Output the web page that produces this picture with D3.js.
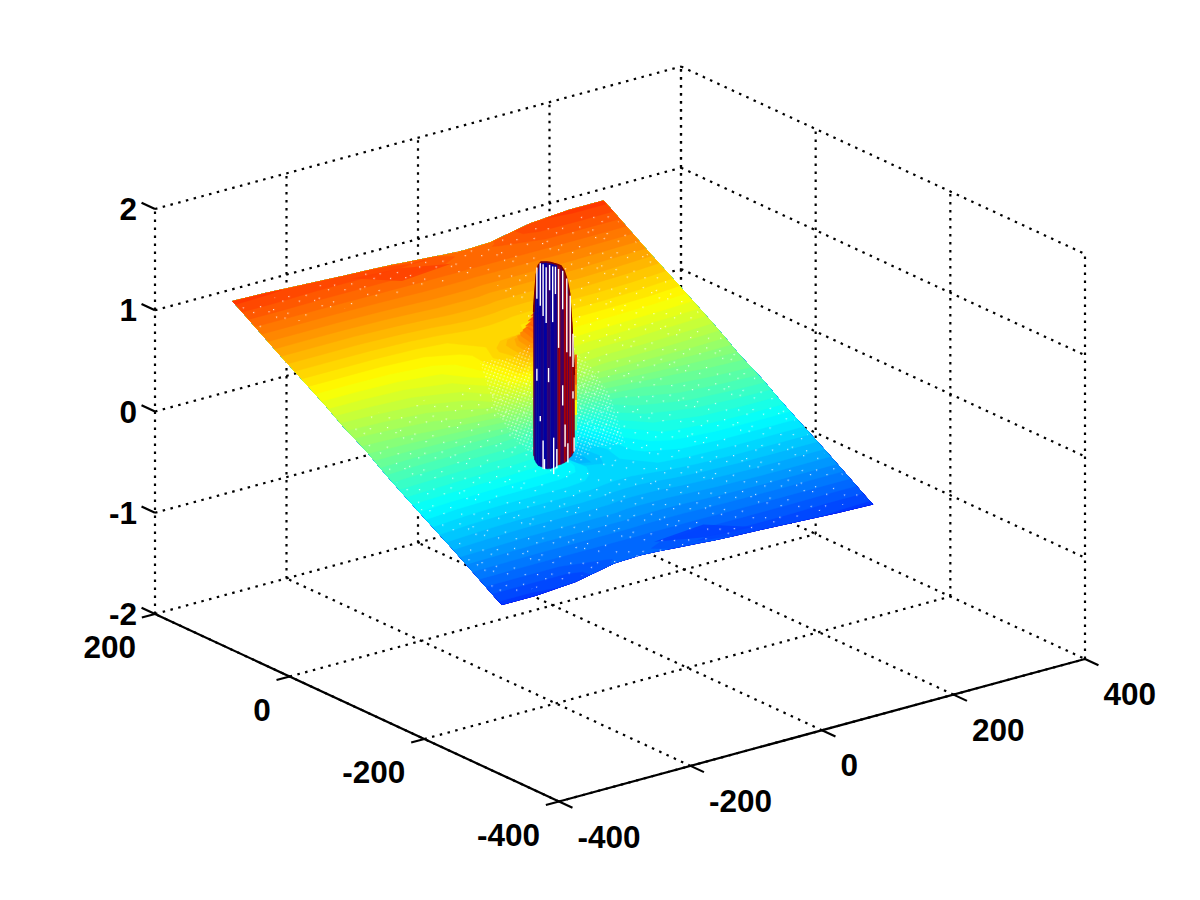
<!DOCTYPE html>
<html><head><meta charset="utf-8">
<style>html,body{margin:0;padding:0;background:#fff}svg{display:block}text{font-family:"Liberation Sans",Arial,sans-serif;font-weight:700;font-size:31.5px;fill:#000}</style>
<script src="https://cdn.jsdelivr.net/npm/d3@7"></script>
</head><body><svg id="c" width="1200" height="900"></svg>
<script>
// ---------- axis values ----------
const xTicks=[-400,-200,0,200,400];
const yTicks=[-400,-200,0,200];
const zTicks=[-2,-1,0,1,2];
// ---------- surface grid ----------
const xGrid=[-282,-230,-170,-110,-70,-40,-22,0,22,40,70,110,170,230,282];
const yGrid=[200,190,170,130,90,60,35,20,0,-20,-35,-60,-90,-130,-170,-190,-200];
const zGrid=[
[.88,.87,.85,.83,.82,.81,.80,.79,.78,.77,.76,.77,.85,.88,.88],
[.84,.84,.83,.83,.83,.83,.82,.82,.80,.78,.76,.78,.84,.84,.84],
[.75,.75,.75,.75,.75,.75,.75,.75,.75,.75,.75,.75,.75,.75,.75],
[.57,.57,.57,.58,.59,.60,.60,.60,.60,.59,.59,.59,.59,.58,.57],
[.40,.40,.40,.41,.43,.45,.46,.46,.45,.44,.43,.43,.43,.42,.40],
[.27,.27,.28,.31,.37,.43,.46,.47,.43,.35,.31,.30,.29,.28,.27],
[.15,.16,.18,.24,.36,.50,.56,.60,.45,.27,.20,.18,.18,.17,.16],
[.09,.10,.12,.19,.30,.48,.72,.95,.60,.20,.11,.10,.10,.10,.09],
[.01,.02,.05,.12,.24,.50,.85,.00,-.50,-.36,-.22,-.12,-.05,-.02,-.01],
[-.09,-.10,-.10,-.10,-.11,-.20,-.45,-.55,-.55,-.44,-.30,-.19,-.12,-.10,-.09],
[-.16,-.17,-.18,-.18,-.20,-.27,-.38,-.50,-.52,-.46,-.34,-.24,-.18,-.16,-.15],
[-.27,-.28,-.29,-.30,-.31,-.35,-.41,-.45,-.46,-.43,-.37,-.31,-.28,-.27,-.27],
[-.40,-.42,-.43,-.43,-.43,-.44,-.45,-.46,-.46,-.45,-.43,-.41,-.40,-.40,-.40],
[-.57,-.58,-.59,-.59,-.59,-.59,-.60,-.60,-.60,-.60,-.59,-.58,-.57,-.57,-.57],
[-.75,-.75,-.75,-.75,-.75,-.75,-.75,-.75,-.75,-.75,-.75,-.75,-.75,-.75,-.75],
[-.84,-.84,-.84,-.78,-.76,-.78,-.80,-.82,-.82,-.83,-.83,-.83,-.83,-.84,-.84],
[-.88,-.88,-.85,-.77,-.76,-.77,-.78,-.79,-.80,-.81,-.82,-.83,-.85,-.87,-.88]];
const colourLimit=1.38;
const planeSlope=.0044;
// ---------- darker folds just inside the two long edges ----------
const foldX=[-111,-40,27,-52];
const foldY=[190,187,177,173];
const foldValue=.86;
// ---------- column wall ----------
const wallCentre=[1,-1];
const wallRadius=21.6;
const wallPhi=[180,170,160,150,140,130,120,110,100,90,80,70,60,50,40,30,20,10,0];
const wallTop=[.877,.959,1.10,1.29,1.393,1.434,1.445,1.454,1.456,1.45,1.443,1.429,1.377,1.284,1.149,.854,.567,.408,.296];
const wallBottom=[-.536,-.532,-.559,-.575,-.588,-.585,-.589,-.589,-.58,-.564,-.54,-.53,-.518,-.503,-.476,-.47,-.449,-.441,-.445];
const wallMix=[.75,.4,.1,0,0,.14,0,.28,.05,.12,.7,.42,.8,.42,.8,.45,.85,.9];
const wallRedPhi=[75,58,48,38,26];
const gapPhi=[147.5,132.5,122.5,112.7,102.6,93.8,86,77,64.8,51,37,21,147.5,105.6,64.8,132.5,21,122.5,118,91,57,47,8,82];
const gapTop=[1.36,1.42,1.42,1.40,1.43,1.42,1.42,1.40,1.38,1.30,1.12,.73,.36,.41,.25,-.09,.16,-.32,-.50,-.27,-.14,-.33,-.31,-.38];
const gapBottom=[1.05,1.00,.91,.85,1.18,.87,1.15,.62,1.0,.57,.52,.40,.24,.27,.05,-.14,.09,-.60,-.60,-.63,-.36,-.52,-.45,-.57];
const skirtZ=[.5,.35,.2,.05,-.1,-.25,-.4];
const skirtValue=[.8,.75,.6,.35,-.05,-.3,-.7];
// ---------- mesh speckle patches on the surface (data units) ----------
const patchX=[-44.5,-1,35,-81,-86.6,-78.5];
const patchY=[64.4,59.4,68,-49.9,-28.7,8.9];
const sparseX=[[-278,278,278,-278],[60,278,278,60],[-278,278,278,-278]];
const sparseY=[[40,40,-192,-192],[160,160,40,40],[192,192,160,160]];

// ---------- scales ----------
const originX=559, originY=801.5;
const xToSx=d3.scaleLinear([-400,400],[0,526]);
const xToSy=d3.scaleLinear([-400,400],[0,-142.5]);
const yToSx=d3.scaleLinear([-400,200],[0,-404]);
const yToSy=d3.scaleLinear([-400,200],[0,-187.5]);
const zToSy=d3.scaleLinear([-2,2],[0,-405]);
const P=(x,y,z)=>[originX+xToSx(x)+yToSx(y),originY+xToSy(x)+yToSy(y)+zToSy(z)];

function jet(v){
  const t=Math.max(0,Math.min(1,(v+colourLimit)/(2*colourLimit)));
  const f=s=>Math.round(255*Math.max(0,Math.min(1,1.5-Math.abs(4*t-s))));
  return `rgb(${f(3)},${f(2)},${f(1)})`;
}
const svg=d3.select("#c");
const defs=svg.append("defs");
function dots(id,w,h,pts,rot,r,op){
  const p=defs.append("pattern").attr("id",id).attr("patternUnits","userSpaceOnUse")
    .attr("width",w).attr("height",h).attr("patternTransform",`rotate(${rot})`);
  pts.forEach(d=>p.append("rect").attr("x",d[0]).attr("y",d[1]).attr("width",r).attr("height",r).attr("fill","#fff").attr("opacity",op));
}
dots("sparse",47,37,[[3,4],[11,7],[15,3],[24,13],[32,9],[41,18],[6,21],[13,27],[20,24],[29,31],[37,27],[44,34],[2,33]],-14,1.2,.85);
dots("dense",3.4,3.4,[[0,0]],20,1.3,.6);

// ---------- dotted walls and floor ----------
const gridG=svg.append("g").attr("fill","none").attr("stroke","#000").attr("stroke-width",2.2).attr("stroke-dasharray","2.5 5.5");
const seg=(g,a,b)=>g.append("line").attr("x1",a[0]).attr("y1",a[1]).attr("x2",b[0]).attr("y2",b[1]);
const xMin=d3.min(xTicks),xMax=d3.max(xTicks),yMin=d3.min(yTicks),yMax=d3.max(yTicks),zMin=d3.min(zTicks),zMax=d3.max(zTicks);
zTicks.forEach(z=>{seg(gridG,P(xMin,yMax,z),P(xMax,yMax,z));seg(gridG,P(xMax,yMax,z),P(xMax,yMin,z));});
xTicks.forEach(x=>{seg(gridG,P(x,yMax,zMin),P(x,yMax,zMax));if(x<xMax)seg(gridG,P(x,yMin,zMin),P(x,yMax,zMin));});
yTicks.forEach(y=>{seg(gridG,P(xMax,y,zMin),P(xMax,y,zMax));if(y<yMax)seg(gridG,P(xMin,y,zMin),P(xMax,y,zMin));});

// ---------- surface as filled contour bands ----------
const nx=xGrid.length,ny=yGrid.length;
const flat=zGrid.flat();
const iToX=d3.scaleLinear(d3.range(nx),xGrid).clamp(true);
const jToY=d3.scaleLinear(d3.range(ny),yGrid).clamp(true);
function zAt(i,j){
  i=Math.max(0,Math.min(nx-1,i));j=Math.max(0,Math.min(ny-1,j));
  const i0=Math.min(nx-2,Math.floor(i)),j0=Math.min(ny-2,Math.floor(j)),a=i-i0,b=j-j0;
  return (1-b)*((1-a)*zGrid[j0][i0]+a*zGrid[j0][i0+1])+b*((1-a)*zGrid[j0+1][i0]+a*zGrid[j0+1][i0+1]);
}
const gridToScreen=(u,v)=>{const i=u-.5,j=v-.5;return P(iToX(i),jToY(j),zAt(i,j));};
const bandPath=d3.geoPath(d3.geoTransform({point(u,v){const s=gridToScreen(u,v);this.stream.point(s[0],s[1]);}}));
const step=2*colourLimit/64;
const thresholds=d3.range(64).map(k=>-colourLimit+k*step);
const bands=d3.contours().size([nx,ny]).thresholds(thresholds)(flat);
const surfG=svg.append("g");
surfG.selectAll("path").data(bands).join("path")
  .attr("d",d=>bandPath(d)).attr("fill",d=>jet(d.value+step/2)).attr("stroke",d=>jet(d.value+step/2)).attr("stroke-width",.4);
const poly=d3.line().curve(d3.curveLinearClosed);
const onPlane=(x,y)=>P(x,y,planeSlope*y);
// darker folds
[1,-1].forEach(s=>svg.append("path").attr("d",poly(foldX.map((x,k)=>onPlane(s*x,s*foldY[k])))).attr("fill",jet(s*foldValue)).attr("opacity",.85));
// mesh speckle
sparseX.forEach((xs,k)=>svg.append("path").attr("d",poly(xs.map((x,m)=>onPlane(x,sparseY[k][m])))).attr("fill","url(#sparse)"));
[1,-1].forEach(s=>svg.append("path").attr("d",poly(patchX.map((x,k)=>onPlane(s*x,s*patchY[k])))).attr("fill","url(#dense)"));

// ---------- column wall ----------
const wallPoint=(phi,z,r=wallRadius)=>{const a=(-45.6-phi)*Math.PI/180;return P(wallCentre[0]+r*Math.cos(a),wallCentre[1]+r*Math.sin(a),z);};
const wallG=svg.append("g");
skirtZ.slice(1).forEach((z,k)=>{
  const a=wallPoint(0,skirtZ[k],wallRadius+1.6),b=wallPoint(0,z,wallRadius+1.6);
  wallG.append("line").attr("x1",a[0]).attr("y1",a[1]).attr("x2",b[0]).attr("y2",b[1])
   .attr("stroke",jet(skirtValue[k])).attr("stroke-width",2.2);
});
const wallMixColour=d3.interpolateRgb(jet(-colourLimit*.93),jet(colourLimit*.93));
wallMix.forEach((m,k)=>{
  const pts=[wallPoint(wallPhi[k],wallTop[k]),wallPoint(wallPhi[k+1],wallTop[k+1]),wallPoint(wallPhi[k+1],wallBottom[k+1]),wallPoint(wallPhi[k],wallBottom[k])];
  wallG.append("path").attr("d",poly(pts)).attr("fill",wallMixColour(m)).attr("stroke",wallMixColour(m)).attr("stroke-width",.5);
});
wallRedPhi.forEach(p=>{
  const i=wallPhi.findIndex(v=>v<p);
  const a=wallPoint(p,wallTop[i]),b=wallPoint(p,wallBottom[i]);
  wallG.append("line").attr("x1",a[0]).attr("y1",a[1]).attr("x2",b[0]).attr("y2",b[1]).attr("stroke",jet(colourLimit*.9)).attr("stroke-width",1.2);
});
wallG.append("path").attr("d",d3.line()(wallPhi.map((p,k)=>wallPoint(p,wallTop[k]))))
  .attr("fill","none").attr("stroke",jet(colourLimit)).attr("stroke-width",1.6);
gapPhi.forEach((p,k)=>{
  const a=wallPoint(p,gapTop[k]),b=wallPoint(p,gapBottom[k]);
  wallG.append("line").attr("x1",a[0]).attr("y1",a[1]).attr("x2",b[0]).attr("y2",b[1]).attr("stroke","#fff").attr("stroke-width",1.4);
});

// ---------- solid axes and ticks ----------
const axisG=svg.append("g").attr("stroke","#000").attr("stroke-width",2.2).attr("fill","none");
seg(axisG,P(xMin,yMax,zMin),P(xMin,yMin,zMin));
seg(axisG,P(xMin,yMin,zMin),P(xMax,yMin,zMin));
xTicks.forEach(x=>seg(axisG,P(x,yMin,zMin),P(x,yMin-20,zMin)));
yTicks.forEach(y=>seg(axisG,P(xMin,y,zMin),P(xMin-20,y,zMin)));
zTicks.forEach(z=>seg(axisG,P(xMin,yMax,z),P(xMin,yMax+20,z)));

// ---------- tick labels ----------
const lab=(s,pos,dx,dy,anchor)=>svg.append("text").attr("x",pos[0]+dx).attr("y",pos[1]+dy).attr("dy",".35em").attr("text-anchor",anchor).text(s);
xTicks.forEach(x=>lab(x,P(x,yMin,zMin),18.5,35,"start"));
yTicks.forEach(y=>lab(y,P(xMin,y,zMin),-19,33,"end"));
zTicks.forEach(z=>lab(z,P(xMin,yMax,z),-18,0,"end"));
</script></body></html>
